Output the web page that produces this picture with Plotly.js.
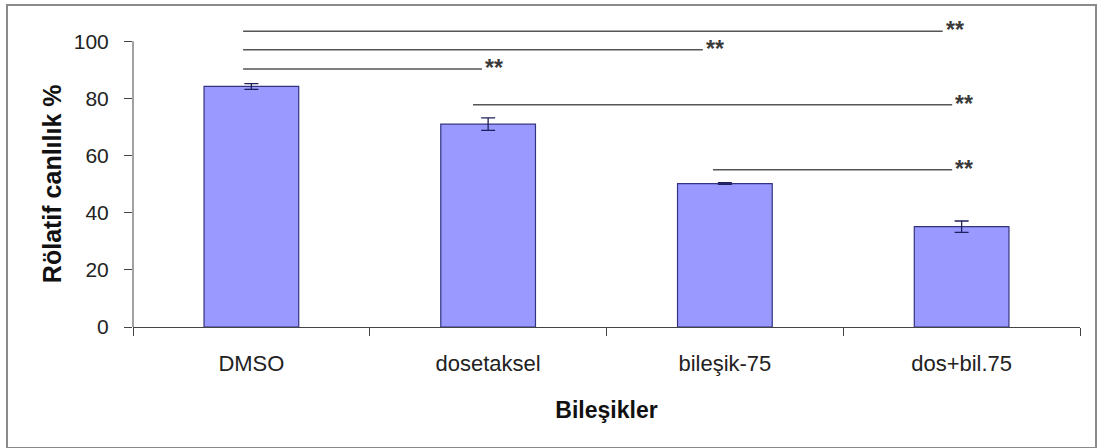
<!DOCTYPE html>
<html>
<head>
<meta charset="utf-8">
<script src="https://cdn.plot.ly/plotly-3.0.1.min.js"></script>
<style>
  html, body { margin: 0; padding: 0; background: #fff; }
  #wrap { position: relative; width: 1097px; height: 448px; }
  #chart { width: 1097px; height: 448px; }
  #frame { position: absolute; left: 6px; top: 4px; width: 1087px; height: 441px;
           border: 2px solid #8a8a8a; pointer-events: none; }
</style>
</head>
<body>
<div id="wrap"><div id="chart"></div><div id="frame"></div></div>
<script>
// ---- data ----
const categories = ["DMSO", "dosetaksel", "bileşik-75", "dos+bil.75"];
const viability = [84.2, 71.0, 50.2, 35.1];
const viabilityErr = [1.0, 2.2, 0.3, 2.0];
const yTicks = [0, 20, 40, 60, 80, 100];

// significance brackets: start / end (category index units), level, label
const sigStart = [-0.035, -0.035, -0.035, 0.936, 1.95];
const sigEnd   = [2.92, 1.907, 0.974, 2.96, 2.96];
const sigLevel = [103.5, 97.0, 90.3, 77.8, 55.0];
const sigLabel = ["**", "**", "**", "**", "**"];

const font = "'Liberation Sans', Arial, sans-serif";

const shapes = [];
const annotations = [];
for (let i = 0; i < sigLevel.length; i++) {
  shapes.push({
    type: 'line', xref: 'x', yref: 'y',
    x0: sigStart[i], x1: sigEnd[i], y0: sigLevel[i], y1: sigLevel[i],
    line: {color: '#555555', width: 1.5}
  });
  annotations.push({
    xref: 'x', yref: 'y', x: sigEnd[i], y: sigLevel[i],
    text: sigLabel[i], showarrow: false, xanchor: 'left', yanchor: 'middle',
    xshift: 1, yshift: 1,
    font: {family: font, size: 23, color: '#3a3a3a', weight: 'bold'}
  });
}
// y axis line from 0 to 100 only
shapes.push({
  type: 'line', xref: 'paper', yref: 'y', x0: 0, x1: 0,
  y0: yTicks[0], y1: yTicks[yTicks.length - 1],
  line: {color: '#444444', width: 1}
});
// y axis title
annotations.push({
  xref: 'paper', yref: 'y', x: 0, y: 50, xshift: -81,
  text: 'Rölatif canlılık %', textangle: -90, showarrow: false,
  xanchor: 'center', yanchor: 'middle',
  font: {family: font, size: 25, color: '#111111', weight: 'bold'}
});

const trace = {
  type: 'bar',
  x: categories,
  y: viability,
  marker: {color: '#9999ff', line: {color: '#333380', width: 1.2}},
  error_y: {type: 'data', array: viabilityErr, visible: true,
            color: '#1f1f5c', thickness: 1.3, width: 7},
  hoverinfo: 'none'
};

const layout = {
  width: 1097, height: 448,
  margin: {l: 133, r: 17, t: 27, b: 121},
  paper_bgcolor: 'rgba(0,0,0,0)', plot_bgcolor: 'rgba(0,0,0,0)',
  showlegend: false,
  bargap: 0.6,
  font: {family: font, color: '#222222'},
  xaxis: {
    type: 'category',
    showline: true, linecolor: '#444444', linewidth: 1,
    ticks: 'outside', tickson: 'boundaries', ticklen: 8, tickcolor: '#444444',
    tickfont: {family: font, size: 22, color: '#222222'},
    ticklabelstandoff: 17,
    showgrid: false, zeroline: false,
    title: {text: 'Bileşikler', standoff: 26,
            font: {family: font, size: 23, color: '#111111', weight: 'bold'}}
  },
  yaxis: {
    range: [0, 105],
    tickvals: yTicks, ticktext: yTicks.map(String),
    showline: false, ticks: 'outside', ticklen: 8, tickcolor: '#444444',
    tickfont: {family: font, size: 21, color: '#222222'},
    ticklabelstandoff: 11,
    showgrid: false, zeroline: false
  },
  shapes: shapes,
  annotations: annotations
};

Plotly.newPlot('chart', [trace], layout, {staticPlot: true});
</script>
</body>
</html>
